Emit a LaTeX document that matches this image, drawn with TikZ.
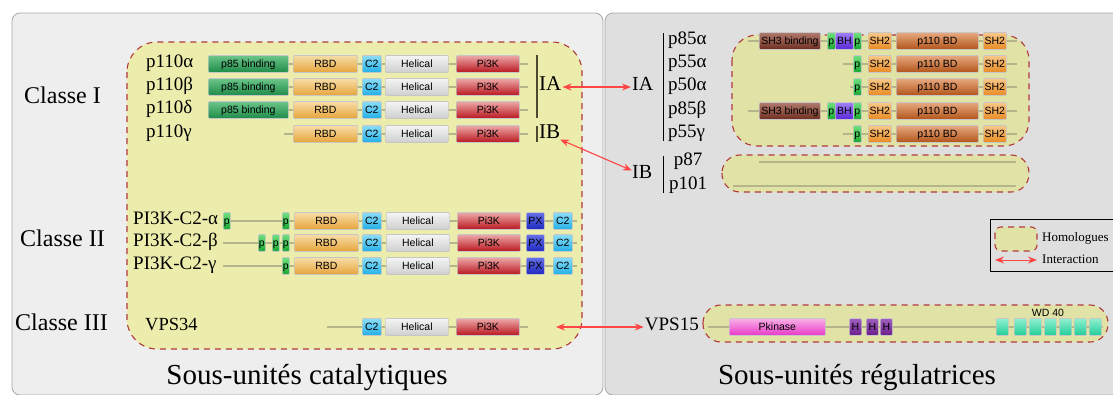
\documentclass[tikz,border=0pt]{standalone}
\usepackage{fontspec}
\setmainfont{Liberation Serif}
\setsansfont{Liberation Sans}
\usetikzlibrary{arrows.meta,calc,positioning}
\definecolor{panelL}{HTML}{EEEEEE}
\definecolor{panelR}{HTML}{DFDFDF}
\definecolor{panelline}{HTML}{A8A8A8}
\definecolor{homfillL}{HTML}{ECEDAC}
\definecolor{homfillR}{HTML}{E1E2A6}
\definecolor{homline}{HTML}{B03A3A}
\definecolor{backcol}{HTML}{B5B58C}
\definecolor{arrowred}{HTML}{FF4545}
\definecolor{domline}{HTML}{C6C6C6}
\definecolor{bindT}{HTML}{6CC58A}\definecolor{bindB}{HTML}{1E8A48}
\definecolor{rbdT}{HTML}{F7DDA8}\definecolor{rbdB}{HTML}{E6A43A}
\definecolor{ctwoT}{HTML}{8CDCF8}\definecolor{ctwoB}{HTML}{22B0E6}
\definecolor{helT}{HTML}{F4F4F4}\definecolor{helB}{HTML}{CFCFCF}
\definecolor{kinT}{HTML}{EDA8A8}\definecolor{kinB}{HTML}{B8161E}
\definecolor{pxT}{HTML}{6670E8}\definecolor{pxB}{HTML}{1E28C0}
\definecolor{pT}{HTML}{70E080}\definecolor{pB}{HTML}{18A830}
\definecolor{shthreeT}{HTML}{B07A6C}\definecolor{shthreeB}{HTML}{6E2E20}
\definecolor{bhT}{HTML}{A080F8}\definecolor{bhB}{HTML}{5A28D8}
\definecolor{shtwoT}{HTML}{F8C888}\definecolor{shtwoB}{HTML}{E88A22}
\definecolor{bdT}{HTML}{E8A880}\definecolor{bdB}{HTML}{B05418}
\definecolor{pkT}{HTML}{F8B0E6}\definecolor{pkB}{HTML}{E838C8}
\definecolor{hT}{HTML}{A060C0}\definecolor{hB}{HTML}{6A1C8A}
\definecolor{wdT}{HTML}{90F0D0}\definecolor{wdB}{HTML}{20CC98}
\tikzset{backbone/.style={draw=backcol, line width=2pt},
  panel/.style={draw=panelline, line width=0.8pt, rounded corners=8pt},
  homol/.style={draw=homline, dash pattern=on 6pt off 5pt, line width=1.1pt},
  inter/.style={{Stealth[length=9pt,width=7pt]}-{Stealth[length=9pt,width=7pt]}, draw=arrowred, line width=1.1pt},
  lbl/.style={inner sep=1pt, text height=0.66em, text depth=0pt, anchor=west, font=\fontsize{19}{19}\selectfont},
  classe/.style={lbl, font=\fontsize{24}{24}\selectfont},
  title/.style={lbl, anchor=center, font=\fontsize{29}{29}\selectfont},
  dom/.style={draw=domline, line width=0.7pt, rounded corners=1pt, inner sep=0pt, minimum height=17pt, anchor=west,
    text height=0.72em, text depth=0pt, font=\sffamily\fontsize{10.5}{10.5}\selectfont},
  bind/.style={dom, minimum width=80pt, top color=bindT, bottom color=bindB},
  rbd/.style={dom, minimum width=64pt, top color=rbdT, bottom color=rbdB},
  ctwo/.style={dom, minimum width=19pt, top color=ctwoT, bottom color=ctwoB},
  hel/.style={dom, minimum width=63pt, top color=helT, bottom color=helB},
  kin/.style={dom, minimum width=63pt, top color=kinT, bottom color=kinB},
  px/.style={dom, minimum width=18pt, top color=pxT, bottom color=pxB},
  pbox/.style={dom, minimum width=7pt, top color=pT, bottom color=pB},
  sh3/.style={dom, minimum width=61pt, top color=shthreeT, bottom color=shthreeB},
  bh/.style={dom, minimum width=18pt, top color=bhT, bottom color=bhB},
  shtwo/.style={dom, minimum width=23pt, top color=shtwoT, bottom color=shtwoB},
  bd/.style={dom, minimum width=82pt, top color=bdT, bottom color=bdB},
  pkin/.style={dom, minimum width=96pt, top color=pkT, bottom color=pkB},
  hbox/.style={dom, minimum width=12pt, top color=hT, bottom color=hB},
  wd/.style={dom, minimum width=12pt, top color=wdT, bottom color=wdB}}

\begin{document}
\begin{tikzpicture}[x=1pt, y=-1pt]
  \useasboundingbox (0,0) rectangle (1113,394);
  % panels
  \draw[panel, fill=panelL] (12,13) rectangle (603,395);
  \draw[panel, fill=panelR] (605,13) rectangle (1125,395);
  \node[title] (tcat) at (307,381) {Sous-unités catalytiques};
  \node[title] (treg) at (857,381) {Sous-unités régulatrices};
  % homologue boxes
  \draw[homol, fill=homfillL, rounded corners=30pt] (127,42) rectangle (582,349);
  \draw[homol, fill=homfillR, rounded corners=25pt] (732,35) rectangle (1029,146);
  \draw[homol, fill=homfillR, rounded corners=18pt] (722,155) rectangle (1029,192);
  \draw[homol, fill=homfillR, rounded corners=18pt] (703,305) rectangle (1108,342);
  \node[classe] (cl1) at (23,100) {Classe I};
  \node[classe] (cl2) at (19,243) {Classe II};
  \node[classe] (cl3) at (14,327) {Classe III};
  % class I
  \foreach \r/\y/\lab/\xs in {a/64/p110α/208,b/87/p110β/208,d/110/p110δ/208,g/134/p110γ/284}{
    \node[lbl] (cat\r) at (145,\y) {\lab};
    \coordinate (cs\r) at (\xs,\y);
    \coordinate (ce\r) at (528,\y);
    \draw[backbone] (cs\r) -- (ce\r);
    \node[rbd] (rbd\r) at (293,\y) {RBD};
    \node[ctwo] (ctwo\r) at (362,\y) {C2};
    \node[hel] (hel\r) at (385,\y) {Helical};
    \node[kin] (kin\r) at (456,\y) {Pi3K};}
  \foreach \r/\y in {a/64,b/87,d/110}
    \node[bind] (bind\r) at (208,\y) {p85 binding};
  \coordinate (iat) at (537,55);
  \coordinate (iab) at (537,118);
  \coordinate (ibt) at (537,126);
  \coordinate (ibb) at (537,142);
  \draw[line width=1.5pt, draw=black!60!olive] (iat) -- (iab) (ibt) -- (ibb);
  \node[lbl, font=\fontsize{21}{21}\selectfont] (iacat) at (538,87) {IA};
  \node[lbl, font=\fontsize{21}{21}\selectfont] (ibcat) at (538,135) {IB};
  % class II
  \foreach \r/\y/\lab in {a/221/PI3K-C2-α,b/243/PI3K-C2-β,g/266/PI3K-C2-γ}{
    \node[lbl] (pik\r) at (132,\y) {\lab};
    \coordinate (ds\r) at (223,\y);
    \coordinate (de\r) at (577,\y);
    \draw[backbone] (ds\r) -- (de\r);
    \node[pbox] (pp\r) at (282,\y) {p};
    \node[rbd] (rbdt\r) at (294,\y) {RBD};
    \node[ctwo] (ctwot\r) at (362,\y) {C2};
    \node[hel] (helt\r) at (386,\y) {Helical};
    \node[kin] (kint\r) at (457,\y) {Pi3K};
    \node[px] (px\r) at (526,\y) {PX};
    \node[ctwo] (ctwoc\r) at (553,\y) {C2};}
  \node[pbox] (ppa1) at (223,221) {p};
  \node[pbox] (ppb1) at (258,243) {p};
  \node[pbox] (ppb2) at (272,243) {p};
  % class III
  \node[lbl, font=\fontsize{18.5}{18.5}\selectfont] (vps34) at (144,327) {VPS34};
  \coordinate (vs) at (327,327);
  \coordinate (ve) at (528,327);
  \draw[backbone] (vs) -- (ve);
  \node[ctwo] (ctwov) at (362,327) {C2};
  \node[hel] (helv) at (385,327) {Helical};
  \node[kin] (kinv) at (456,327) {Pi3K};
  % regulatory IA
  \node[lbl, font=\fontsize{20}{20}\selectfont] (iareg) at (631,87) {IA};
  \coordinate (rbt) at (663,33);
  \coordinate (rbb) at (663,141);
  \draw[line width=1pt] (rbt) -- (rbb);
  \foreach \r/\y/\lab/\xs in {1/41/p85α/748,2/64/p55α/843,3/87/p50α/850,4/111/p85β/748,5/134/p55γ/843}{
    \node[lbl] (reg\r) at (667,\y) {\lab};
    \coordinate (rs\r) at (\xs,\y);
    \coordinate (re\r) at (1017,\y);
    \draw[backbone] (rs\r) -- (re\r);
    \node[pbox, minimum width=8pt] (rp\r) at (853,\y) {p};
    \node[shtwo] (sha\r) at (868,\y) {SH2};
    \node[bd] (bd\r) at (896,\y) {p110 BD};
    \node[shtwo] (shb\r) at (983,\y) {SH2};}
  \foreach \r/\y in {1/41,4/111}{
    \node[sh3] (sh3\r) at (759,\y) {SH3 binding};
    \node[pbox, minimum width=8pt] (rq\r) at (827,\y) {p};
    \node[bh] (bh\r) at (835,\y) {BH};}
  % regulatory IB
  \node[lbl, font=\fontsize{20}{20}\selectfont] (ibreg) at (631,175) {IB};
  \coordinate (rct) at (663,156);
  \coordinate (rcb) at (663,193);
  \draw[line width=1pt] (rct) -- (rcb);
  \node[lbl, anchor=center] (p87) at (688,162) {p87};
  \node[lbl, anchor=center] (p101) at (688,186) {p101};
  \coordinate (ls1) at (759,162);
  \coordinate (le1) at (1016,162);
  \coordinate (ls2) at (733,186);
  \coordinate (le2) at (1016,186);
  \draw[backbone] (ls1) -- (le1) (ls2) -- (le2);
  % VPS15
  \node[lbl, anchor=east] (vps15) at (700,327) {VPS15};
  \coordinate (ws) at (708,327);
  \coordinate (we) at (1103,327);
  \draw[backbone] (ws) -- (we);
  \node[pkin] (pkinase) at (729,327) {Pkinase};
  \foreach \i/\x in {1/849,2/866,3/880}
    \node[hbox] (heat\i) at (\x,327) {H};
  \foreach \i/\x in {1/996,2/1014,3/1029,4/1044,5/1059,6/1074,7/1089}
    \node[wd] (wd\i) at (\x,327) {};
  \node[lbl, anchor=center, font=\sffamily\fontsize{10.5}{10.5}\selectfont] (wdlab) at (1048,313) {WD 40};
  % interactions
  \coordinate (vps34r) at (556,327);
  \draw[inter] (iacat) -- (iareg);
  \draw[inter] (ibcat) -- (ibreg);
  \draw[inter] (vps34r) -- (vps15);
  % legend
  \draw[line width=0.8pt] (990,219) rectangle (1125,271);
  \draw[homol, fill=homfillR, rounded corners=6pt] (995,227) rectangle (1037,251);
  \coordinate (la) at (995,260);
  \coordinate (lb) at (1037,260);
  \draw[inter, line width=0.9pt] (la) -- (lb);
  \node[lbl, font=\fontsize{13}{13}\selectfont] (lhom) at (1041,238) {Homologues};
  \node[lbl, font=\fontsize{13}{13}\selectfont] (lint) at (1041,260) {Interaction};
\end{tikzpicture}
\end{document}
